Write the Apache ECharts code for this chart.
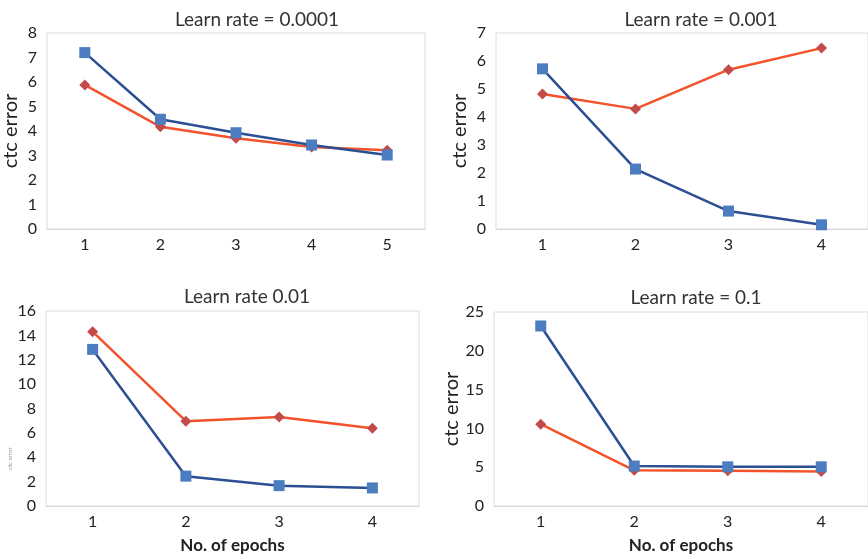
<!DOCTYPE html>
<html>
<head>
<meta charset="utf-8">
<script src="https://cdn.jsdelivr.net/npm/echarts@6/dist/echarts.min.js"></script>
<style>
  html, body { margin: 0; padding: 0; background: #fff; }
  #chart { width: 868px; height: 559px; }
</style>
</head>
<body>
<div id="chart"></div>
<script>
// Epoch categories for each panel
const epochs5 = ['1', '2', '3', '4', '5'];
const epochs4 = ['1', '2', '3', '4'];

// Panel titles
const titles = ['Learn rate = 0.0001', 'Learn rate = 0.001', 'Learn rate 0.01', 'Learn rate = 0.1'];

// ctc error per epoch, blue (square) series
const blueLr0001 = [7.2, 4.48, 3.93, 3.43, 3.02];
const blueLr001 = [5.72, 2.14, 0.64, 0.15];
const blueLr01 = [12.85, 2.45, 1.67, 1.48];
const blueLr1 = [23.2, 5.15, 5.05, 5.05];

// ctc error per epoch, red (diamond) series
const redLr0001 = [5.88, 4.17, 3.7, 3.35, 3.21];
const redLr001 = [4.82, 4.29, 5.69, 6.46];
const redLr01 = [14.3, 6.96, 7.3, 6.37];
const redLr1 = [10.55, 4.6, 4.55, 4.45];

// y-axis ranges
const yMax = [8, 7, 16, 25];
const yStep = [1, 1, 2, 5];

const FONT = 'Lato, "Open Sans", sans-serif';
const BLUE_LINE = '#2B4F92';
const BLUE_MARK = '#4B7DC0';
const RED_LINE = '#F4522B';
const RED_MARK = '#C24B4A';

const grids = [
  { left: 47, width: 378, top: 33, height: 196 },
  { left: 496, width: 380, top: 33, height: 196 },
  { left: 46, width: 373, top: 311, height: 195 },
  { left: 494, width: 375, top: 312, height: 194 }
];

const cats = [epochs5, epochs4, epochs4, epochs4];
const blues = [blueLr0001, blueLr001, blueLr01, blueLr1];
const reds = [redLr0001, redLr001, redLr01, redLr1];
const titlePos = [[252, 5], [696, 5], [242, 282], [691, 283]];
const yNameGap = [26, 26, 29, 31];

const option = {
  backgroundColor: '#fff',
  animation: false,
  title: titles.map((t, i) => ({
    text: t,
    left: titlePos[i][0],
    top: titlePos[i][1],
    textAlign: 'center',
    textStyle: { fontFamily: FONT, fontSize: 19, fontWeight: 'normal', color: '#333' }
  })),
  grid: grids.map(g => Object.assign({ show: true, borderColor: '#dcdcdc', borderWidth: 1, backgroundColor: 'transparent' }, g)),
  xAxis: cats.map((c, i) => ({
    type: 'category',
    gridIndex: i,
    data: c,
    boundaryGap: true,
    axisLine: { show: true, lineStyle: { color: '#d6d6d6', width: 1 } },
    axisTick: { show: false },
    axisLabel: { fontFamily: FONT, fontSize: 16, color: '#222', margin: 8 },
    name: i >= 2 ? 'No. of epochs' : '',
    nameLocation: 'middle',
    nameGap: 31,
    nameTextStyle: { fontFamily: FONT, fontSize: 17, fontWeight: 'bold', color: '#222' }
  })),
  yAxis: yMax.map((m, i) => ({
    type: 'value',
    gridIndex: i,
    min: 0,
    max: m,
    interval: yStep[i],
    axisLine: { show: false },
    axisTick: { show: false },
    splitLine: { show: false },
    axisLabel: { fontFamily: FONT, fontSize: 16, color: '#222', margin: 10 },
    name: 'ctc error',
    nameLocation: 'middle',
    nameGap: yNameGap[i],
    nameRotate: 90,
    nameTextStyle: i === 2
      ? { fontFamily: FONT, fontSize: 6, color: '#999', padding: [0, 100, 0, 0] }
      : { fontFamily: FONT, fontSize: 20, color: '#222' }
  })),
  series: []
};

for (let i = 0; i < 4; i++) {
  option.series.push({
    name: 'blue-' + i,
    type: 'line',
    xAxisIndex: i,
    yAxisIndex: i,
    data: blues[i],
    symbol: 'rect',
    symbolSize: 11,
    lineStyle: { color: BLUE_LINE, width: 2.5 },
    itemStyle: { color: BLUE_MARK },
    z: 3
  });
  option.series.push({
    name: 'red-' + i,
    type: 'line',
    xAxisIndex: i,
    yAxisIndex: i,
    data: reds[i],
    symbol: 'diamond',
    symbolSize: 11,
    lineStyle: { color: RED_LINE, width: 2.5 },
    itemStyle: { color: RED_MARK },
    z: 2
  });
}

const chart = echarts.init(document.getElementById('chart'), null, { renderer: 'canvas' });
chart.setOption(option);
</script>
</body>
</html>
